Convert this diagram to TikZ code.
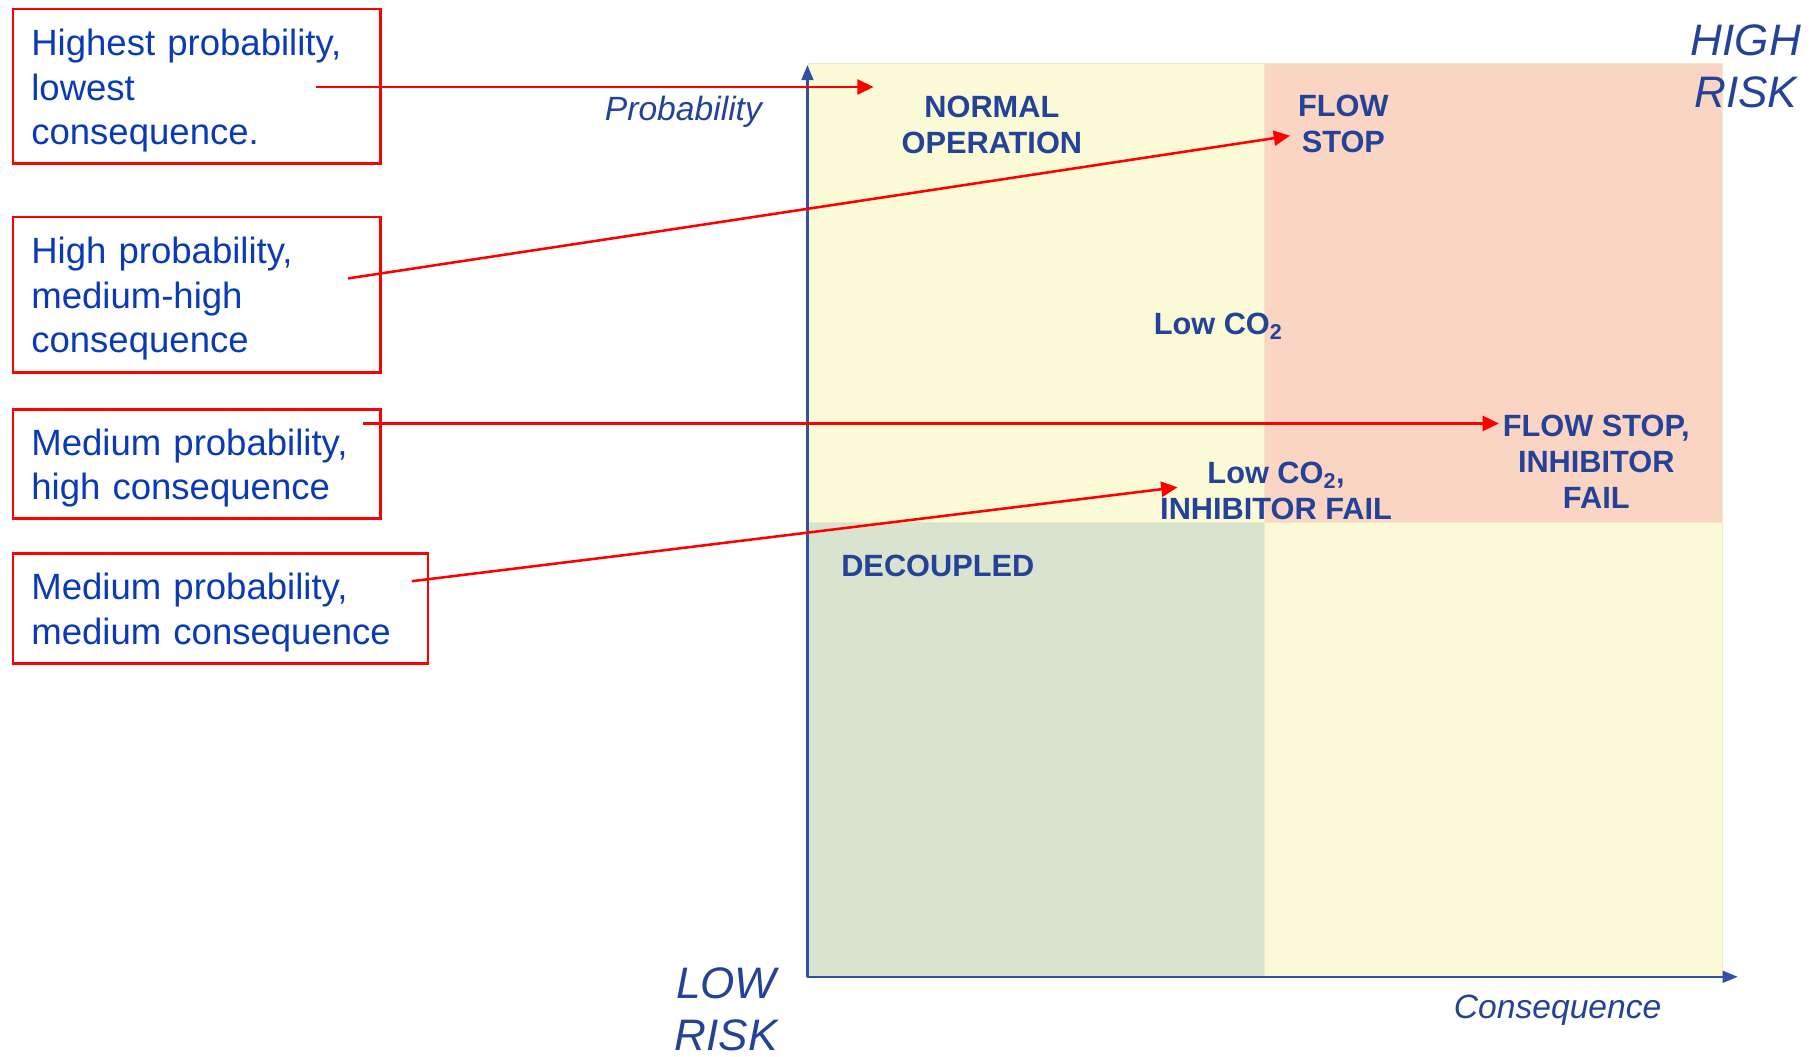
\documentclass[tikz,border=0pt]{standalone}
\usepackage{fontspec}
\setmainfont{Liberation Sans}
\usetikzlibrary{arrows.meta}
\definecolor{boxtext}{RGB}{10,58,182}
\definecolor{labelblue}{RGB}{36,66,152}
\definecolor{axisblue}{RGB}{52,80,162}
\definecolor{lowyellow}{RGB}{250,250,215}
\definecolor{highsalmon}{RGB}{251,213,195}
\definecolor{safegreen}{RGB}{217,228,208}
\definecolor{zoneedge}{RGB}{240,234,196}
% extra height on the first line so the lines sit centred in the box
\newcommand{\firstline}{\rule{0pt}{30pt}}
\begin{document}
\begin{tikzpicture}[x=1pt,y=-1pt,
  notebox/.style={draw=red, line width=2pt, anchor=north west,
    inner xsep=16pt, inner ysep=0pt, align=left, text=boxtext,
    font=\fontsize{31.5}{38.5}\selectfont},
  zone/.style={draw=zoneedge, line width=0.8pt},
  zonelabel/.style={font=\fontsize{26.5}{31}\selectfont\bfseries,
    text=labelblue, align=center, inner sep=0pt},
  axislabel/.style={font=\fontsize{29}{35}\selectfont\itshape,
    text=labelblue, inner sep=0pt},
  risklabel/.style={font=\fontsize{38}{45}\selectfont\itshape,
    text=labelblue, align=center, inner sep=0pt},
  axisline/.style={draw=axisblue, line width=2.2pt,
    -{Triangle[length=13pt,width=10pt]}},
  pointer/.style={draw=red, line width=2.2pt,
    -{Triangle[length=14pt,width=13pt]}}
]
\useasboundingbox (0,0) rectangle (1568,911);

% risk matrix quadrants
\path[zone, fill=lowyellow]  (697,55)  rectangle (1090,450);
\path[zone, fill=highsalmon] (1090,55) rectangle (1485,450);
\path[zone, fill=safegreen]  (697,450) rectangle (1090,842);
\path[zone, fill=lowyellow]  (1090,450) rectangle (1485,842);

% axes
\coordinate (origin) at (696,842);
\coordinate (ytip) at (696,56);
\coordinate (xtip) at (1498,842);
\draw[axisline] (origin) -- (ytip);
\draw[axisline] (origin) -- (xtip);

\node[axislabel, anchor=base east] (prob) at (657,104) {Probability};
\node[axislabel, anchor=base west] (cons) at (1253,878) {Consequence};
\node[risklabel] (high) at (1505,57) {HIGH\\RISK};
\node[risklabel] (low) at (626,870) {LOW\\RISK};

% scenario labels
\node[zonelabel] (normal) at (855,108) {NORMAL\\OPERATION};
\node[zonelabel] (flow) at (1158,107) {FLOW\\STOP};
\node[zonelabel, anchor=base] (lowco) at (1050,288) {Low CO\textsubscript{2}};
\node[zonelabel] (flowinh) at (1376,398) {FLOW STOP,\\INHIBITOR\\FAIL};
\node[zonelabel] (lowinh) at (1100,423) {Low CO\textsubscript{2},\\INHIBITOR FAIL};
\node[zonelabel, anchor=west] (decoupled) at (725,488) {DECOUPLED};

% explanatory boxes
\node[notebox, minimum width=317pt, minimum height=133pt, text width=285pt]
  (n1) at (10,7) {\firstline Highest probability,\\lowest\\consequence.};
\node[notebox, minimum width=317pt, minimum height=134pt, text width=285pt]
  (n2) at (10,186) {\firstline High probability,\\medium-high\\consequence};
\node[notebox, minimum width=317pt, minimum height=94pt, text width=285pt]
  (n3) at (10,352) {\firstline Medium probability,\\high consequence};
\node[notebox, minimum width=358pt, minimum height=95pt, text width=326pt]
  (n4) at (10,476) {\firstline Medium probability,\\medium consequence};

% pointers from the boxes into the matrix
\coordinate (p1s) at (272,75);   \coordinate (p1e) at (753,75);
\coordinate (p2s) at (300,240);  \coordinate (p2e) at (1112,117);
\coordinate (p3s) at (313,365);  \coordinate (p3e) at (1292,365);
\coordinate (p4s) at (355,501);  \coordinate (p4e) at (1015,420);
\draw[pointer] (p1s) -- (p1e);
\draw[pointer] (p2s) -- (p2e);
\draw[pointer] (p3s) -- (p3e);
\draw[pointer] (p4s) -- (p4e);
\end{tikzpicture}
\end{document}
